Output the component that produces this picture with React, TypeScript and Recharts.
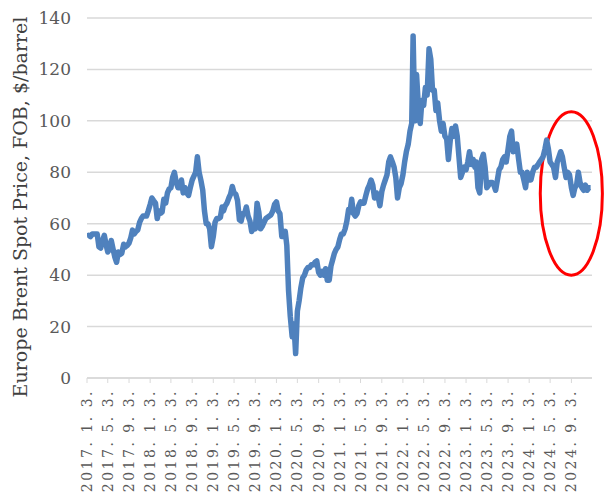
import React from 'react';
import {
  LineChart,
  Line,
  XAxis,
  YAxis,
  CartesianGrid,
  ReferenceArea,
  Label,
} from 'recharts';

// Brent spot, $/barrel, read roughly three times a month (3rd, 13th, 23rd)
const brent2017 = [55, 55.5, 55, 56, 56, 56, 56, 51, 50.5, 53.5, 55.5, 52, 49, 50, 53.5, 50, 47, 45, 49, 48, 48.5, 52, 51, 51.5, 52.5, 54.5, 57.5, 56, 57, 57.5, 60.5, 62, 63, 63, 63, 65];
const brent2018 = [67.5, 70, 69, 68, 62, 65, 64, 64.5, 69.5, 68, 72, 73.5, 74, 78, 80, 76, 74, 74, 77, 72, 74, 72, 71, 74, 77, 78.5, 80, 86, 80, 77, 73, 65, 60, 60, 58, 51];
const brent2019 = [55, 60.5, 62, 62, 62.5, 66.5, 65, 67, 68, 70, 71.5, 74.5, 72, 71.5, 69, 61.5, 61, 64, 64, 66.5, 63, 61, 57, 59.5, 58, 68, 64.5, 58, 59, 60.5, 62, 62.5, 63, 63.5, 65, 67.5];
const brent2020 = [68.5, 65, 64, 55, 55, 57, 51.5, 34, 24, 16, 21, 9.5, 26, 30, 35, 39, 40, 42, 43, 43, 44, 44, 45, 45.5, 41, 40, 41.5, 40, 42.5, 38, 38, 43.5, 46, 48.5, 50, 51];
const brent2021 = [54, 56, 56, 58, 61, 65.5, 64.5, 69.5, 64, 63, 64, 67, 68.5, 68, 68, 71, 73.5, 75, 77, 75, 70, 72, 70.5, 67, 72.5, 75, 77, 79, 84, 86, 84, 82, 78, 70, 74, 75.5];
const brent2022 = [79, 84, 88, 91, 96, 99, 133, 100, 118, 105, 99, 108, 106, 113, 110, 128, 124, 112, 112, 104, 107, 100, 96, 99, 94, 93, 85, 92, 97, 94, 98, 94, 86, 78, 80, 82];
const brent2023 = [81, 84, 88, 83, 85, 82, 84, 74, 72, 85, 87, 82, 74, 75, 76, 76, 75, 73, 77, 81, 82, 85, 86, 84, 89, 94, 96, 88, 89, 91, 85, 80, 80, 77, 74, 80];
const brent2024 = [77, 77, 80, 82, 82, 83, 84, 85, 86, 89, 92.5, 89, 84, 83, 82, 78, 84, 86, 88, 86, 82, 78, 80, 79, 74, 71, 74, 75, 80, 76, 74, 73, 75, 73, 74, 74];

const years = [2017, 2018, 2019, 2020, 2021, 2022, 2023, 2024];
const yearSeries = [brent2017, brent2018, brent2019, brent2020, brent2021, brent2022, brent2023, brent2024];
const sampleDays = [3, 13, 23];

const tickDates = [
  '2017-01-03', '2017-05-03', '2017-09-03',
  '2018-01-03', '2018-05-03', '2018-09-03',
  '2019-01-03', '2019-05-03', '2019-09-03',
  '2020-01-03', '2020-05-03', '2020-09-03',
  '2021-01-03', '2021-05-03', '2021-09-03',
  '2022-01-03', '2022-05-03', '2022-09-03',
  '2023-01-03', '2023-05-03', '2023-09-03',
  '2024-01-03', '2024-05-03', '2024-09-03',
];
const priceTicks = [0, 20, 40, 60, 80, 100, 120, 140];

const toMs = (s: string) => {
  const [y, m, d] = s.split('-').map(Number);
  return Date.UTC(y, m - 1, d);
};

const data = years.flatMap((yr, i) =>
  yearSeries[i].map((price, k) => ({
    t: Date.UTC(yr, Math.floor(k / 3), sampleDays[k % 3]),
    price,
  }))
);

const xTicks = tickDates.map(toMs);
const xDomain = [toMs('2017-01-03'), toMs('2024-12-31')];

const fmtDate = (ms: number) => {
  const d = new Date(ms);
  return `${d.getUTCFullYear()}. ${d.getUTCMonth() + 1}. ${d.getUTCDate()}.`;
};

const FONT = '"DejaVu Serif", serif';

const DateTick = ({ x, y, payload }: any) => (
  <g transform={`translate(${x},${y})`}>
    <text
      transform="rotate(-90)"
      x={-3}
      y={5}
      textAnchor="end"
      fontSize={14}
      letterSpacing={2.5}
      fill="#595959"
      fontFamily={FONT}
    >
      {fmtDate(payload.value)}
    </text>
  </g>
);

const YTitle = (props: any) => {
  const vb = props.viewBox || {};
  const cy = (vb.y ?? 18) + (vb.height ?? 360) / 2 + 9;
  return (
    <text
      x={27}
      y={cy}
      transform={`rotate(-90, 27, ${cy})`}
      textAnchor="middle"
      fontSize={19}
      fill="#404040"
      fontFamily={FONT}
    >
      Europe Brent Spot Price, FOB, $/barrel
    </text>
  );
};

const Ellipse = (p: any) => (
  <ellipse
    cx={p.x + p.width / 2}
    cy={p.y + p.height / 2}
    rx={Math.abs(p.width) / 2}
    ry={Math.abs(p.height) / 2}
    fill="none"
    stroke="#ff0000"
    strokeWidth={3}
  />
);

export default function App() {
  return (
    <div style={{ position: 'absolute', left: 0, top: 0, background: '#fff' }}>
      <LineChart
        width={604}
        height={495}
        data={data}
        margin={{ top: 18, right: 12, bottom: 0, left: 0 }}
        style={{ fontFamily: FONT }}
      >
        <CartesianGrid vertical={false} stroke="#d9d9d9" strokeWidth={1.5} />
        <XAxis
          dataKey="t"
          type="number"
          scale="time"
          domain={xDomain}
          ticks={xTicks}
          height={117}
          interval={0}
          tick={<DateTick />}
          tickSize={5}
          tickMargin={3}
          axisLine={{ stroke: '#d9d9d9', strokeWidth: 1.5 }}
          tickLine={{ stroke: '#d9d9d9' }}
          allowDataOverflow
        />
        <YAxis
          domain={[0, 140]}
          ticks={priceTicks}
          width={87}
          axisLine={false}
          tickLine={false}
          tickMargin={10}
          tick={{ fontSize: 17, fill: '#595959', fontFamily: FONT }}
        >
          <Label content={<YTitle />} />
        </YAxis>
        <Line
          type="linear"
          dataKey="price"
          stroke="#4f81bd"
          strokeWidth={5.5}
          strokeLinejoin="round"
          dot={false}
          isAnimationActive={false}
        />
        <ReferenceArea
          x1={toMs('2024-03-07')}
          x2={toMs('2025-03-01')}
          y1={40}
          y2={103.5}
          ifOverflow="visible"
          shape={<Ellipse />}
        />
      </LineChart>
    </div>
  );
}
